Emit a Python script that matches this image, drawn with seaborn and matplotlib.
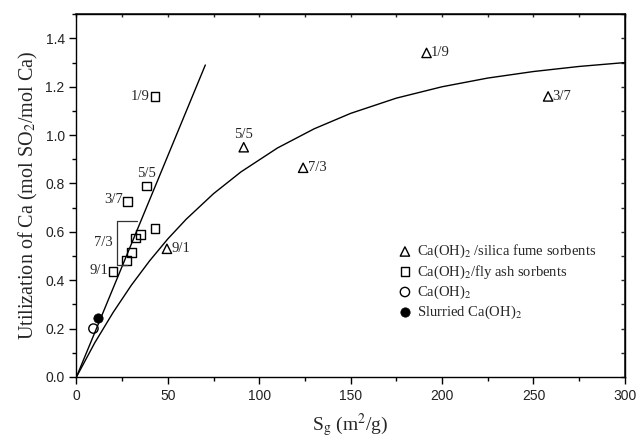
import pandas as pd
import seaborn as sns
from matplotlib import pyplot as plt
from matplotlib.ticker import MultipleLocator

sns.set_theme(style="ticks")
plt.rcParams['font.family'] = ['Liberation Serif', 'DejaVu Serif']
plt.rcParams['mathtext.fontset'] = 'stix'

# Ca(OH)2 / silica fume sorbents (triangles)
silica_labels = ["9/1", "5/5", "7/3", "1/9", "3/7"]
silica_sg = [49.5, 91.5, 124.0, 191.5, 258.0]
silica_u = [0.53, 0.95, 0.865, 1.34, 1.16]

# Ca(OH)2 / fly ash sorbents (squares)
flyash_sg = [20.0, 27.5, 30.0, 32.5, 35.0, 43.0, 28.0, 38.5, 43.0]
flyash_u = [0.435, 0.48, 0.515, 0.575, 0.59, 0.615, 0.725, 0.79, 1.16]

# pure and slurried Ca(OH)2
caoh_sg = [9.3]
caoh_u = [0.20]
slurry_sg = [11.8]
slurry_u = [0.245]

# straight line and curve
line_sg = [0, 70.5]
line_u = [0, 1.29]
curve_sg = [0, 10, 20, 30, 40, 50, 60, 75, 90, 110, 130, 150, 175, 200, 225, 250, 275, 300]
curve_u = [0, 0.141, 0.266, 0.379, 0.480, 0.571, 0.652, 0.758, 0.848, 0.947, 1.026,
           1.090, 1.153, 1.200, 1.236, 1.263, 1.284, 1.300]

# bracket around the 7/3 fly ash points
bracket_sg = [33.0, 22.0, 22.0, 27.5]
bracket_u = [0.645, 0.645, 0.465, 0.465]

fig, ax = plt.subplots(figsize=(6.37, 4.44), dpi=100)
fig.subplots_adjust(left=0.12, right=0.981, bottom=0.151, top=0.968)

sns.lineplot(x=line_sg, y=line_u, color="black", linewidth=1.0, ax=ax, sort=False)
sns.lineplot(x=curve_sg, y=curve_u, color="black", linewidth=1.0, ax=ax, sort=False)
ax.plot(bracket_sg, bracket_u, color="#333333", linewidth=0.9)

sns.scatterplot(x=silica_sg, y=silica_u, marker="^", s=45, facecolor="none",
                edgecolor="black", linewidth=1.0, ax=ax,
                label="Ca(OH)$_2$ /silica fume sorbents")
sns.scatterplot(x=flyash_sg, y=flyash_u, marker="s", s=40, facecolor="none",
                edgecolor="black", linewidth=1.0, ax=ax,
                label="Ca(OH)$_2$/fly ash sorbents")
sns.scatterplot(x=caoh_sg, y=caoh_u, marker="o", s=45, facecolor="none",
                edgecolor="black", linewidth=1.0, ax=ax, label="Ca(OH)$_2$")
sns.scatterplot(x=slurry_sg, y=slurry_u, marker="o", s=45, color="black",
                edgecolor="black", ax=ax, label="Slurried Ca(OH)$_2$")

# labels next to the triangles
fs = 10.5
for lab, x, y in zip(silica_labels, silica_sg, silica_u):
    if lab == "5/5":
        ax.text(x, y + 0.025, lab, ha="center", va="bottom", fontsize=fs)
    else:
        ax.text(x + 2.5, y, lab, ha="left", va="center", fontsize=fs)

# labels next to the squares
ax.text(40.0, 1.16, "1/9", ha="right", va="center", fontsize=fs)
ax.text(25.5, 0.735, "3/7", ha="right", va="center", fontsize=fs)
ax.text(38.5, 0.815, "5/5", ha="center", va="bottom", fontsize=fs)
ax.text(20.0, 0.555, "7/3", ha="right", va="center", fontsize=fs)
ax.text(17.5, 0.44, "9/1", ha="right", va="center", fontsize=fs)

ax.set_xlim(0, 300)
ax.set_ylim(0, 1.5)
ax.xaxis.set_major_locator(MultipleLocator(50))
ax.xaxis.set_minor_locator(MultipleLocator(25))
ax.yaxis.set_major_locator(MultipleLocator(0.2))
ax.yaxis.set_minor_locator(MultipleLocator(0.1))
ax.yaxis.set_major_formatter(plt.FuncFormatter(lambda v, p: f"{v:.1f}"))

for sp in ax.spines.values():
    sp.set_visible(True)
    sp.set_color("black")
    sp.set_linewidth(1.0)

ax.tick_params(which="major", direction="out", length=5, width=1.0,
               color="black", labelsize=10, labelcolor="#222222")
ax.tick_params(which="minor", direction="out", length=3, width=1.0, color="black")
for lbl in ax.get_xticklabels() + ax.get_yticklabels():
    lbl.set_family(['Liberation Sans', 'DejaVu Sans'])

top = ax.secondary_xaxis('top')
top.xaxis.set_major_locator(MultipleLocator(25))
top.tick_params(direction="in", length=2.5, width=1.0, labeltop=False)
right = ax.secondary_yaxis('right')
right.yaxis.set_major_locator(MultipleLocator(0.1))
right.tick_params(direction="in", length=3, width=1.0, labelright=False)

ax.set_xlabel("S$_\\mathrm{g}$ (m$^2$/g)", fontsize=14, labelpad=6)
ax.set_ylabel("Utilization of Ca (mol SO$_2$/mol Ca)", fontsize=14.5, labelpad=4)

ax.legend(loc="upper left", bbox_to_anchor=(0.575, 0.385), frameon=False,
          fontsize=10.5, handletextpad=0.3, labelspacing=0.2, borderaxespad=0,
          handlelength=1.0)

plt.savefig("out.png", dpi=100)
